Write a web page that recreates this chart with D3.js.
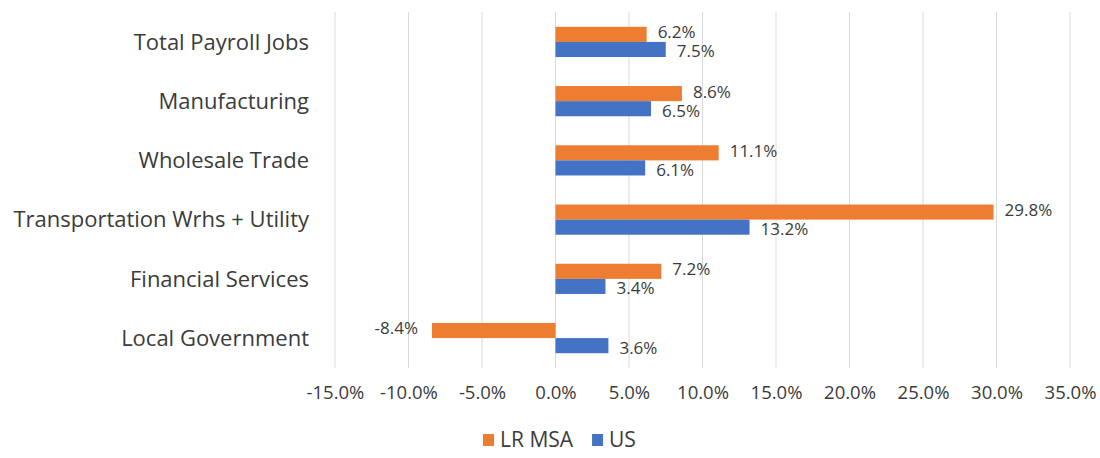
<!DOCTYPE html>
<html>
<head>
<meta charset="utf-8">
<script src="https://cdn.jsdelivr.net/npm/d3@7"></script>
<style>
  body { margin: 0; background: #fff; }
  text { font-family: "Open Sans", Lato, sans-serif; fill: #3b3b3b; }
  .grid line { stroke: #d9d9d9; stroke-width: 1; }
</style>
</head>
<body>
<div id="viz"></div>
<script>
var categories = ["Total Payroll Jobs", "Manufacturing", "Wholesale Trade", "Transportation Wrhs + Utility", "Financial Services", "Local Government"];
var lrMsa = [6.2, 8.6, 11.1, 29.8, 7.2, -8.4];
var us = [7.5, 6.5, 6.1, 13.2, 3.4, 3.6];
var seriesNames = ["LR MSA", "US"];
var xTicks = [-15, -10, -5, 0, 5, 10, 15, 20, 25, 30, 35];

var width = 1100, height = 458;
var color = { "LR MSA": "#ed7d31", "US": "#4472c4" };

var svg = d3.select("#viz").append("svg").attr("width", width).attr("height", height);

var x = d3.scaleLinear().domain([-15, 35]).range([335, 1070]);
var y = d3.scaleBand().domain(categories).range([12, 368]).paddingInner(0.49).paddingOuter(0.25);
var ySub = d3.scaleBand().domain(seriesNames).range([0, y.bandwidth()]);

// gridlines
svg.append("g")
    .attr("class", "grid")
  .selectAll("line")
  .data(xTicks)
  .enter().append("line")
    .attr("x1", function(d) { return x(d); })
    .attr("x2", function(d) { return x(d); })
    .attr("y1", 12)
    .attr("y2", 368);

// x axis labels
var xAxis = d3.axisBottom(x).tickValues(xTicks).tickSize(0).tickPadding(0)
    .tickFormat(function(d) { return d.toFixed(1) + "%"; });
var gx = svg.append("g").attr("transform", "translate(0,386)").call(xAxis);
gx.select(".domain").remove();
gx.selectAll("text").style("font-size", "18.5px").style("font-family", null).attr("fill", null);

// category labels
svg.append("g").selectAll("text")
  .data(categories)
  .enter().append("text")
    .attr("x", 309)
    .attr("y", function(d) { return y(d) + y.bandwidth() / 2; })
    .attr("dy", "0.35em")
    .attr("text-anchor", "end")
    .style("font-size", "22px")
    .text(function(d) { return d; });

var rows = [];
categories.forEach(function(c, i) {
  rows.push({ cat: c, series: "LR MSA", value: lrMsa[i] });
  rows.push({ cat: c, series: "US", value: us[i] });
});

var bar = svg.append("g").selectAll("g")
  .data(rows)
  .enter().append("g")
    .attr("transform", function(d) { return "translate(0," + (y(d.cat) + ySub(d.series)) + ")"; });

bar.append("rect")
    .attr("x", function(d) { return x(Math.min(0, d.value)); })
    .attr("width", function(d) { return Math.abs(x(d.value) - x(0)); })
    .attr("height", ySub.bandwidth())
    .attr("fill", function(d) { return color[d.series]; });

bar.append("text")
    .attr("x", function(d) { return d.value < 0 ? x(d.value) - 14 : x(d.value) + 11; })
    .attr("y", function(d) { return ySub.bandwidth() / 2 + (d.series == "US" ? 2 : -2); })
    .attr("dy", "0.35em")
    .attr("text-anchor", function(d) { return d.value < 0 ? "end" : "start"; })
    .style("font-size", "17px")
    .text(function(d) { return d.value.toFixed(1) + "%"; });

// legend
var legend = svg.append("g").attr("transform", "translate(483,440)");
var lx = 0;
seriesNames.forEach(function(s) {
  legend.append("rect").attr("x", lx).attr("y", -6).attr("width", 11).attr("height", 12).attr("fill", color[s]);
  var t = legend.append("text").attr("x", lx + 17).attr("y", 0).attr("dy", "0.35em")
      .style("font-size", "21px").text(s);
  lx += 17 + t.node().getComputedTextLength() + 19;
});
</script>
</body>
</html>
